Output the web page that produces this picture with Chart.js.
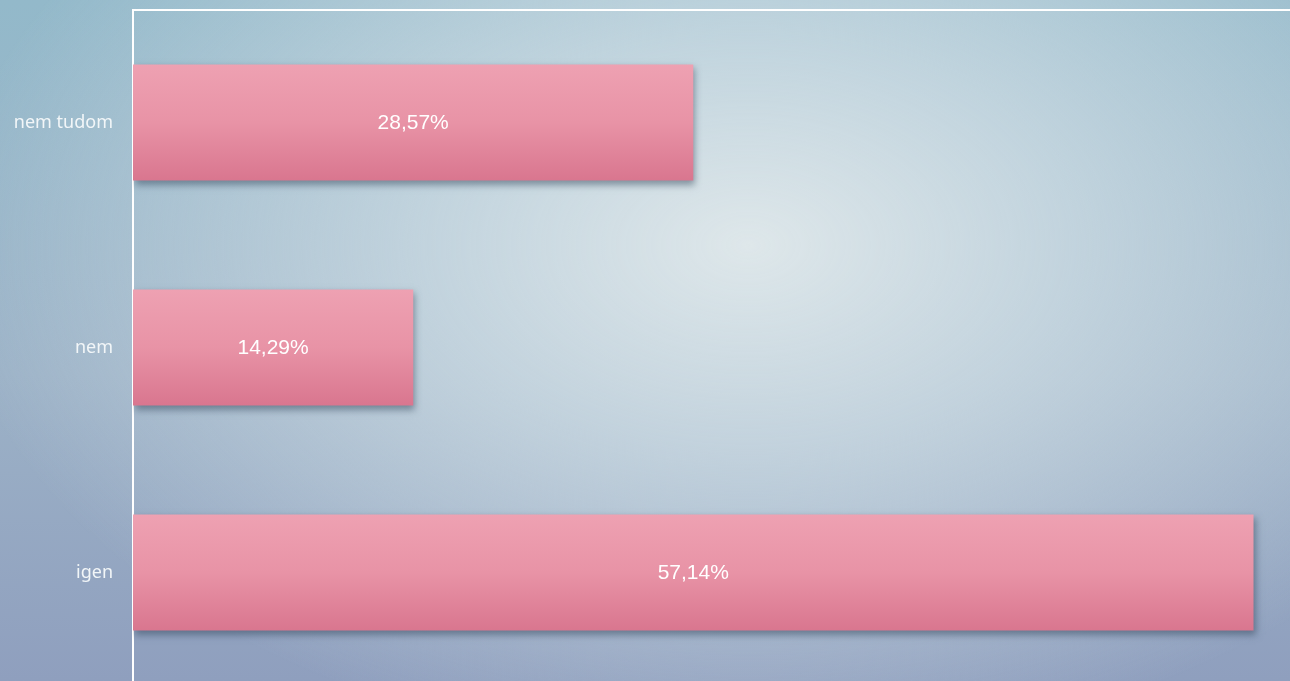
<!DOCTYPE html>
<html>
<head>
<meta charset="utf-8">
<script src="https://cdn.jsdelivr.net/npm/chart.js@4"></script>
<style>
  html, body { margin: 0; padding: 0; width: 1290px; height: 681px; overflow: hidden; }
  body {
    background:
      radial-gradient(ellipse 62% 75% at 58% 36%, rgba(222,231,234,1) 0%, rgba(208,222,229,0.75) 40%, rgba(200,214,226,0) 100%),
      linear-gradient(180deg, #93b9ca 0%, #9cb2c7 55%, #8f9fbe 100%);
  }
  canvas { position: absolute; left: 0; top: 0; }
</style>
</head>
<body>
<canvas id="chart" width="1290" height="685"></canvas>
<script>
const categories = ["nem tudom", "nem", "igen"];
const shares = [28.57, 14.29, 57.14];
const barShare = 0.516;

// vertical pink gradient for each bar
function barFill(c) {
    const chart = c.chart;
    if (!chart.chartArea || c.dataIndex === undefined) return "#e896a8";
    const ys = chart.scales.y;
    const mid = ys.getPixelForValue(c.dataIndex);
    const h = ys.height / categories.length * barShare;
    const g = chart.ctx.createLinearGradient(0, mid - h / 2, 0, mid + h / 2);
    g.addColorStop(0, "#eea1b2");
    g.addColorStop(0.5, "#e893a6");
    g.addColorStop(1, "#d9768f");
    return g;
}

// drop shadow under the bars, value labels in the middle, top frame line
const barLook = {
    id: "barLook",
    beforeDatasetsDraw(chart) {
        const ctx = chart.ctx;
        ctx.save();
        ctx.shadowColor = "rgba(45,65,85,0.5)";
        ctx.shadowBlur = 7;
        ctx.shadowOffsetX = 2;
        ctx.shadowOffsetY = 4;
    },
    afterDatasetsDraw(chart) {
        const ctx = chart.ctx;
        ctx.restore();
        ctx.save();
        const a = chart.chartArea;
        ctx.strokeStyle = "#ffffff";
        ctx.lineWidth = 2;
        ctx.beginPath();
        ctx.moveTo(a.left - 1, a.top);
        ctx.lineTo(a.right, a.top);
        ctx.stroke();
        ctx.fillStyle = "#ffffff";
        ctx.font = "21px 'Liberation Sans', Arial, sans-serif";
        ctx.textAlign = "center";
        ctx.textBaseline = "middle";
        chart.getDatasetMeta(0).data.forEach((bar, i) => {
            const txt = shares[i].toFixed(2).replace(".", ",") + "%";
            ctx.fillText(txt, (bar.base + bar.x) / 2, bar.y + 1);
        });
        ctx.restore();
    }
};

new Chart(document.getElementById("chart"), {
    type: "bar",
    data: {
        labels: categories,
        datasets: [{
            data: shares,
            backgroundColor: barFill,
            borderWidth: 0,
            categoryPercentage: 1,
            barPercentage: barShare
        }]
    },
    options: {
        indexAxis: "y",
        responsive: false,
        animation: false,
        layout: { padding: { top: 10, left: 0, right: 0, bottom: 0 } },
        plugins: { legend: { display: false }, tooltip: { enabled: false } },
        scales: {
            x: {
                display: false,
                min: 0,
                max: 59
            },
            y: {
                grid: { display: false, drawTicks: false },
                border: { display: true, color: "#ffffff", width: 2 },
                ticks: {
                    color: "#f2f6f8",
                    padding: 20,
                    font: { family: "'Noto Sans', 'Open Sans', sans-serif", size: 18 }
                },
                afterFit: s => {
                    s.width = 133;
                    s.paddingTop = 0;
                    s.paddingBottom = 0;
                }
            }
        }
    },
    plugins: [barLook]
});
</script>
</body>
</html>
